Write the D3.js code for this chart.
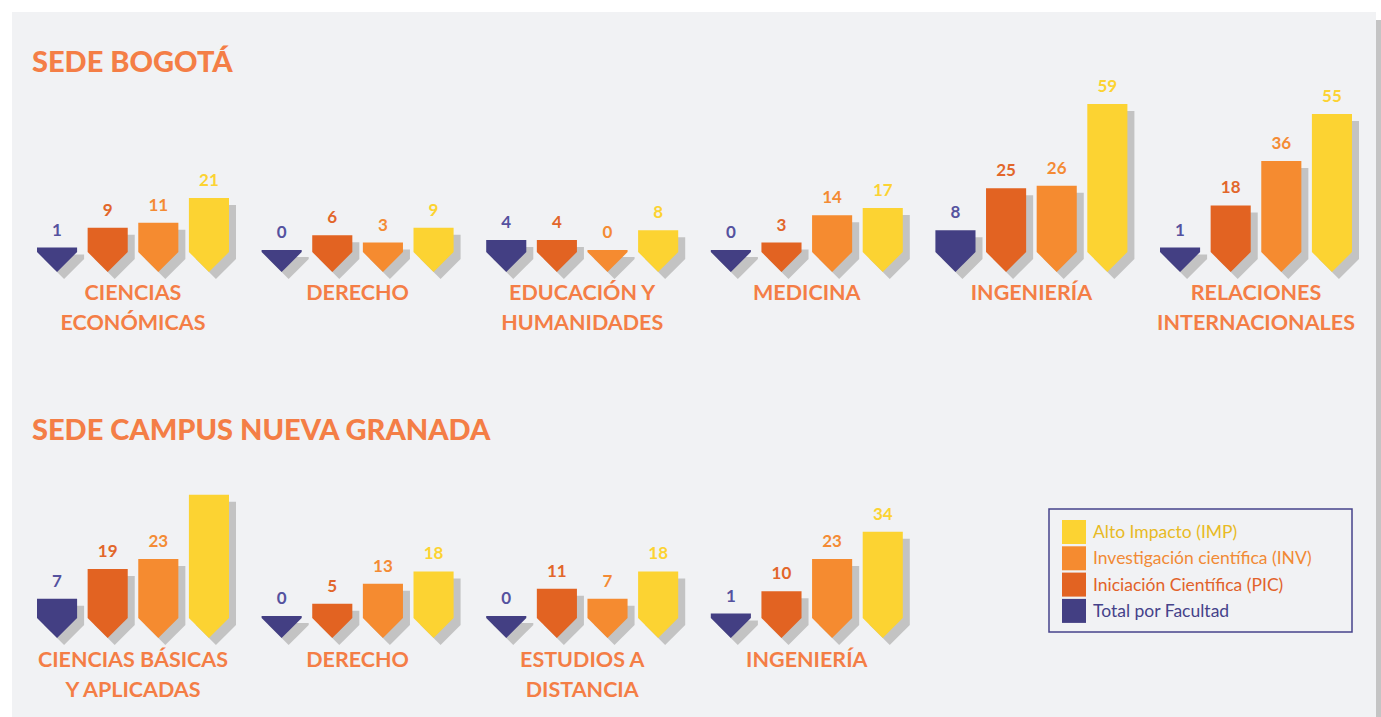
<!DOCTYPE html>
<html>
<head>
<meta charset="utf-8">
<script src="https://cdn.jsdelivr.net/npm/d3@7"></script>
<style>
  body { margin: 0; background: #fff; }
  svg { display: block; font-family: Lato, "Open Sans", sans-serif; }
</style>
</head>
<body>
<svg width="1381" height="717"></svg>
<script>
// series, in the order the bars are drawn inside each group
const series = ["Total por Facultad", "Iniciación Científica (PIC)", "Investigación científica (INV)", "Alto Impacto (IMP)"];
const seriesColors = ["#433f83", "#e26322", "#f58b30", "#fcd332"];
const labelColors = ["#55529f", "#e2662a", "#f48b34", "#fcd332"];
const legendTextColors = ["#45428a", "#e2622a", "#f18a35", "#e8ba24"];

// Sede Bogotá
const bogotaFacultades = [["CIENCIAS", "ECONÓMICAS"], ["DERECHO"], ["EDUCACIÓN Y", "HUMANIDADES"], ["MEDICINA"], ["INGENIERÍA"], ["RELACIONES", "INTERNACIONALES"]];
const bogotaValores = [[1, 9, 11, 21], [0, 6, 3, 9], [4, 4, 0, 8], [0, 3, 14, 17], [8, 25, 26, 59], [1, 18, 36, 55]];

// Sede Campus Nueva Granada
const campusFacultades = [["CIENCIAS BÁSICAS", "Y APLICADAS"], ["DERECHO"], ["ESTUDIOS A", "DISTANCIA"], ["INGENIERÍA"]];
const campusValores = [[7, 19, 23, 49], [0, 5, 13, 18], [0, 11, 7, 18], [1, 10, 23, 34]];
// the tall yellow bar of Ciencias Básicas carries no number in the original
const campusSinEtiqueta = [[0, 3]];

const svg = d3.select('svg');
const orange = '#f47e46';

// card background
svg.append('rect').attr('x', 1376).attr('y', 20).attr('width', 5).attr('height', 697).attr('fill', '#c4c4c4');
svg.append('rect').attr('x', 12).attr('y', 12).attr('width', 1364).attr('height', 705).attr('fill', '#f1f2f4');

// scales
const groupX = d3.scaleBand().domain(d3.range(6)).range([37, 37 + 6 * 224.6]).paddingInner(0).paddingOuter(0).align(0);
const barX = d3.scaleBand().domain(d3.range(4)).range([0, 192]).paddingInner(0.208).paddingOuter(0);
const barH = d3.scaleLinear().domain([0, 59]).range([2, 148]);
const tip = 20;

function barPath(x, w, base, h) {
    const top = base - h;
    return `M${x},${top}H${x + w}V${base}L${x + w / 2},${base + tip}L${x},${base}Z`;
}

function drawRow(facultades, valores, base, labelY, skip) {
    const skipSet = new Set((skip || []).map(d => d.join('-')));
    const g = svg.append('g');
    facultades.forEach((fac, i) => {
        const gx = groupX(i);
        const grp = g.append('g').attr('transform', `translate(${gx},0)`);
        const vals = valores[i].map((v, j) => ({v, j}));

        // shadows first
        grp.selectAll('path.shadow').data(vals).enter().append('path')
            .attr('class', 'shadow')
            .attr('d', d => barPath(barX(d.j) + 7, barX.bandwidth(), base + 7, barH(d.v)))
            .attr('fill', '#c3c3c3');

        grp.selectAll('path.bar').data(vals).enter().append('path')
            .attr('class', 'bar')
            .attr('d', d => barPath(barX(d.j), barX.bandwidth(), base, barH(d.v)))
            .attr('fill', d => seriesColors[d.j]);

        grp.selectAll('text.val').data(vals.filter(d => !skipSet.has(i + '-' + d.j))).enter().append('text')
            .attr('class', 'val')
            .attr('x', d => barX(d.j) + barX.bandwidth() / 2)
            .attr('y', d => base - barH(d.v) - 12)
            .attr('text-anchor', 'middle')
            .attr('font-size', 17)
            .attr('font-weight', 700)
            .attr('fill', d => labelColors[d.j])
            .text(d => d.v);

        grp.selectAll('text.cat').data(fac).enter().append('text')
            .attr('class', 'cat')
            .attr('x', 96)
            .attr('y', (d, k) => labelY + k * 30)
            .attr('text-anchor', 'middle')
            .attr('font-size', 21.5)
            .attr('font-weight', 700)
            .attr('fill', orange)
            .text(d => d);
    });
}

// titles
svg.append('text').attr('x', 32).attr('y', 72).attr('font-size', 29).attr('font-weight', 900)
    .attr('fill', orange).text('SEDE BOGOTÁ');
svg.append('text').attr('x', 32).attr('y', 440).attr('font-size', 29).attr('font-weight', 900)
    .attr('fill', orange).text('SEDE CAMPUS NUEVA GRANADA');

drawRow(bogotaFacultades, bogotaValores, 252, 300, []);
drawRow(campusFacultades, campusValores, 618, 667, campusSinEtiqueta);

// legend
const legend = svg.append('g').attr('transform', 'translate(1049,509)');
legend.append('rect').attr('width', 303).attr('height', 123)
    .attr('fill', 'none').attr('stroke', '#46438b').attr('stroke-width', 1.5);
const legendOrder = [3, 2, 1, 0];
const li = legend.selectAll('g.item').data(legendOrder).enter().append('g')
    .attr('class', 'item')
    .attr('transform', (d, k) => `translate(13,${11 + k * 26.3})`);
li.append('rect').attr('width', 24).attr('height', 24).attr('fill', d => seriesColors[d]);
li.append('text').attr('x', 31).attr('y', 18).attr('font-size', 17.5)
    .attr('fill', d => legendTextColors[d]).text(d => series[d]);
</script>
</body>
</html>
